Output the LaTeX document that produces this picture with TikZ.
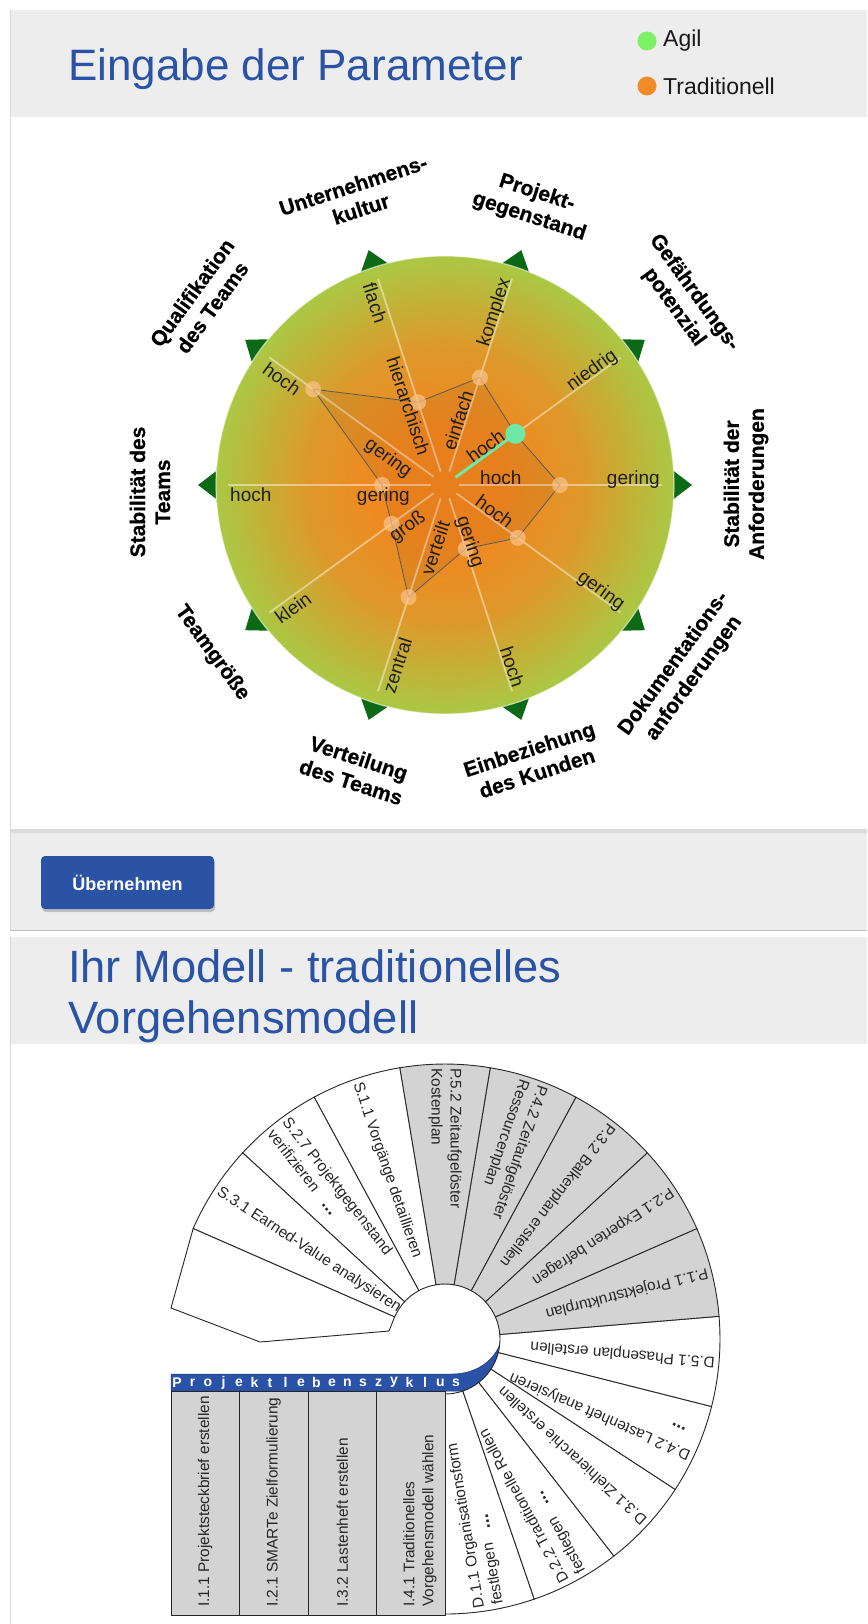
\documentclass[tikz,border=0pt]{standalone}
\usepackage{fontspec}
\setmainfont{Liberation Sans}
\newfontfamily\heavyfont{Liberation Sans Bold}[FakeBold=0.6]
\usetikzlibrary{calc}

\definecolor{hdrgrey}{RGB}{237,237,237}
\definecolor{titleblue}{RGB}{42,83,166}
\definecolor{agilgreen}{RGB}{125,242,100}
\definecolor{tradorange}{RGB}{242,140,40}
\definecolor{rorange}{RGB}{243,134,30}
\definecolor{rmid}{RGB}{222,152,42}
\definecolor{rgreen}{RGB}{170,200,68}
\definecolor{tricol}{RGB}{12,105,22}
\definecolor{mint}{RGB}{110,232,168}
\definecolor{peach}{RGB}{250,196,140}
\definecolor{wedgegrey}{RGB}{211,211,211}
\definecolor{bandblue}{RGB}{42,82,166}

% the path's bounding box maps onto the inner 25bp radius of the shading
\pgfdeclareradialshading{radarshade}{\pgfpoint{0bp}{0bp}}{color(0bp)=(rorange); color(6bp)=(rorange); color(15bp)=(rmid); color(25bp)=(rgreen); color(50bp)=(rgreen)}

\newcommand{\moredots}{\hspace{14pt}{\fontsize{18}{19}\selectfont\textbf{...}}}

\begin{document}
\begin{tikzpicture}[x=1pt,y=1pt,
  title/.style={font=\fontsize{44}{52}\selectfont, text=titleblue, inner sep=0},
  legtext/.style={font=\fontsize{23}{26}\selectfont, inner sep=0, anchor=west, text=black!90},
  legdot/.style={circle, inner sep=0, minimum size=19pt},
  axlab/.style={font=\fontsize{19}{22}\selectfont, inner sep=0, text=black!88},
  catlab/.style={font=\heavyfont\fontsize{21}{25}\selectfont, align=center, inner sep=0},
  spoke/.style={white, opacity=0.45, line width=1.8pt},
  tri/.style={fill=tricol},
  wedge/.style={draw=black!85, line width=0.9pt},
  wtext/.style={font=\fontsize{15.4}{19}\selectfont, align=left, inner sep=0, anchor=west, text=black!85},
  cell/.style={draw=black!85, line width=0.9pt, fill=wedgegrey},
  bandch/.style={font=\bfseries\fontsize{14}{15}\selectfont, text=white, inner sep=0},
  btn/.style={fill=titleblue, rounded corners=4pt, minimum width=173pt, minimum height=53pt,
              text=white, font=\bfseries\fontsize{18}{20}\selectfont, inner sep=0}
]
\useasboundingbox (0,0) rectangle (867,-1624);
\fill[white] (0,0) rectangle (867,-1624);

% ---------- page panels ----------
\fill[hdrgrey] (10,-10) rectangle (867,-117);
\fill[black!14] (10,-829) rectangle (867,-833);
\fill[hdrgrey] (10,-833) rectangle (867,-930);
\draw[black!25] (10,-930.5) -- (867,-930.5);
\draw[black!15] (10,-10) -- (10,-930);
\fill[hdrgrey] (10,-937) rectangle (867,-1044);
\draw[black!15] (10,-937) -- (10,-1624);

% ---------- headings and legend ----------
\node[title, anchor=base west] (t1) at (68,-81) {Eingabe der Parameter};
\node[title, font=\fontsize{45.3}{52}\selectfont, anchor=base west] (t2a) at (68,-982) {Ihr Modell - traditionelles};
\node[title, font=\fontsize{45.3}{52}\selectfont, anchor=base west] (t2b) at (68,-1033) {Vorgehensmodell};

\node[legdot, fill=agilgreen] (lg1) at (647,-41) {};
\node[legtext] (lt1) at (663,-41) {Agil};
\node[legdot, fill=tradorange] (lg2) at (647,-86) {};
\node[legtext] (lt2) at (663,-86) {Traditionell};

% ---------- button ----------
\fill[black!25, rounded corners=4pt] (42,-859) rectangle (215,-912);
\node[btn] (btn) at (127.5,-882.5) {Übernehmen};

% ---------- radar chart ----------
\coordinate (rc) at (445,-485);
\foreach \a in {108,72,36,0,-36,-72,-108,-144,180,144}
  \fill[tri] ($(rc)+(\a:226)+(\a+90:16)$) -- ($(rc)+(\a:247)$) -- ($(rc)+(\a:226)+(\a-90:16)$) -- cycle;
\shade[shading=radarshade] (rc) circle (229pt);
\draw[white, opacity=0.55, line width=1.2pt] (rc) circle (229pt);

\foreach \a in {108,72,36,0,-36,-72,-108,-144,180,144}
  \draw[spoke] ($(rc)+(\a:14)$) -- ($(rc)+(\a:217)$);

\foreach \a/\v [count=\i] in {108/87,72/113,36/87,0/115,-36/90,-72/67,-108/118,-144/66,180/63,144/163}
  \coordinate (p\i) at ($(rc)+(\a:\v)$);
\filldraw[draw=black!65, line width=0.8pt, fill=black, fill opacity=0.05]
  (p1)--(p2)--(p3)--(p4)--(p5)--(p6)--(p7)--(p8)--(p9)--(p10)--cycle;
\foreach \i in {1,2,4,5,6,7,8,9,10}
  \fill[peach, opacity=0.7] (p\i) circle (8pt);
\draw[mint, line width=3pt] ($(rc)+(36:13)$) -- (p3);
\fill[mint] (p3) circle (10pt);

\foreach \a/\rt/\oa/\ia/\off/\otx/\itx [count=\i] in {
  108/-72/north west/north east/3/flach/hierarchisch,
  72/72/base east/base west/1/komplex/einfach,
  36/36/base east/base west/1/niedrig/hoch,
  0/0/base east/base west/1/gering/hoch,
  -36/-36/base east/base west/1/gering/hoch,
  -72/-72/base east/base west/1/hoch/gering,
  -108/72/north west/north east/3/zentral/verteilt,
  -144/36/north west/north east/3/klein/groß,
  180/0/north west/north east/3/hoch/gering,
  144/-36/north west/north east/3/hoch/gering}
{
  \node[axlab, rotate=\rt, anchor=\oa] (ol\i) at ($(rc)+(\a:215)+(\a+90:\off)$) {\otx};
  \node[axlab, rotate=\rt, anchor=\ia] (il\i) at ($(rc)+(\a:35)+(\a+90:\off)$) {\itx};
}

\node[catlab, rotate=18]  (c1)  at (357,-197) {Unternehmens-\\kultur};
\node[catlab, rotate=-18] (c2)  at (533,-205) {Projekt-\\gegenstand};
\node[catlab, rotate=-54] (c3)  at (684,-300) {Gefährdungs-\\potenzial};
\node[catlab, rotate=90]  (c4)  at (746,-484) {Stabilität der\\Anforderungen};
\node[catlab, rotate=54]  (c5)  at (684,-671) {Dokumentations-\\anforderungen};
\node[catlab, rotate=18]  (c6)  at (533,-761) {Einbeziehung\\des Kunden};
\node[catlab, rotate=-18] (c7)  at (355,-770) {Verteilung\\des Teams};
\node[catlab, rotate=-54] (c8)  at (212,-653) {Teamgröße};
\node[catlab, rotate=90]  (c9)  at (150,-492) {Stabilität des\\Teams};
\node[catlab, rotate=54]  (c10) at (202,-300) {Qualifikation\\des Teams};

% ---------- process fan ----------
\coordinate (fc) at (445,-1339);

% life-cycle band
\fill[bandblue, draw=bandblue!75!black, line width=0.5pt]
  (171,-1374) -- (452,-1374) .. controls (474,-1374) and (492,-1363) .. ($(fc)+(-6:55)$)
  arc[start angle=-6, end angle=-71, radius=55pt] -- (171,-1391) -- cycle;
\foreach \ch [count=\j from 0] in {P,r,o,j,e,k,t,l,e,b,e,n,s,z,y,k,l,u,s}
  \node[bandch] (bl\j) at (177+\j*15.5,-1382.5) {\ch};

% wedges
\foreach \k in {0,...,12}{
  \pgfmathsetmacro\aA{-90+\k*360/19}
  \pgfmathsetmacro\aB{-90+(\k+1)*360/19}
  \ifnum\k>4 \ifnum\k<10 \def\wf{wedgegrey}\else\def\wf{white}\fi\else\def\wf{white}\fi
  \filldraw[wedge, fill=\wf] ($(fc)+(\aA:55)$) -- ($(fc)+(\aA:275)$)
     arc[start angle=\aA, end angle=\aB, radius=275pt] -- ($(fc)+(\aB:55)$)
     arc[start angle=\aB, end angle=\aA, radius=55pt] -- cycle;
}
\filldraw[wedge, fill=white] ($(fc)+(156.32:275)$) -- (171,-1308) -- (260,-1342) -- (389,-1331)
  -- ($(fc)+(156.32:55)$) -- cycle;

\foreach \k/\txt in {
  0/{D.1.1 Organisationsform\\festlegen\moredots},
  1/{D.2.2 Traditionelle Rollen\\festlegen\moredots},
  2/{D.3.1 Zielhierarchie erstellen},
  3/{D.4.2 Lastenheft analysieren\\\hspace*{14pt}{\fontsize{18}{19}\selectfont\textbf{...}}},
  4/{D.5.1 Phasenplan erstellen},
  5/{P.1.1 Projektstrukturplan},
  6/{P.2.1 Experten befragen},
  7/{P.3.2 Balkenplan erstellen},
  8/{P.4.2 Zeitaufgelöster\\Ressourcenplan},
  9/{P.5.2 Zeitaufgelöster\\Kostenplan},
  10/{S.1.1 Vorgänge detaillieren},
  11/{S.2.7 Projektgegenstand\\verifizieren\moredots},
  12/{S.3.1 Earned-Value analysieren}}
{
  \pgfmathsetmacro\am{-90+(\k+0.5)*360/19}
  \node[wtext, rotate=\am+180] (wt\k) at ($(fc)+(\am:271)$) {\txt};
}

% initiation table
\foreach \j/\txt in {0/{I.1.1 Projektsteckbrief erstellen},1/{I.2.1 SMARTe Zielformulierung},2/{I.3.2 Lastenheft erstellen}}{
  \filldraw[cell] (171+\j*68.5,-1391) rectangle (239.5+\j*68.5,-1615);
  \node[wtext, rotate=90] (tc\j) at (205.25+\j*68.5,-1607) {\txt};
}
\filldraw[cell] (376.5,-1391) rectangle (445,-1615);
\node[wtext, rotate=90] (tc3) at (420,-1607) {I.4.1 Traditionelles\\Vorgehensmodell wählen};
\end{tikzpicture}
\end{document}
